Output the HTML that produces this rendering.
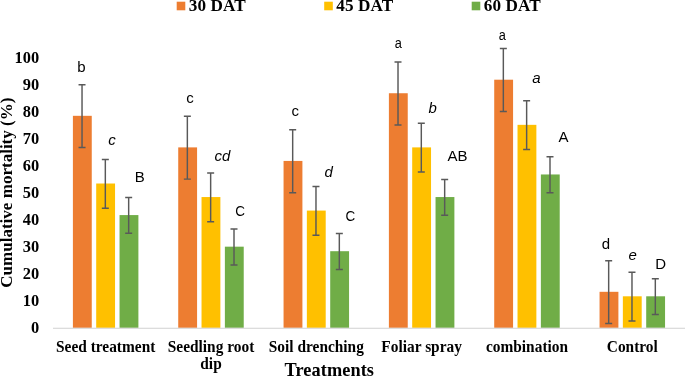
<!DOCTYPE html>
<html lang="en"><head><meta charset="utf-8"><title>Cumulative mortality chart</title>
<style>
html,body{margin:0;padding:0;background:#fff;}
body{width:685px;height:376px;overflow:hidden;}
svg{display:block;will-change:transform;}
.s{font-family:"Liberation Serif","DejaVu Serif",serif;font-weight:bold;fill:#000;}
.a{font-family:"Liberation Sans","DejaVu Sans",sans-serif;fill:#000;font-size:15px;}
.i{font-style:italic;}
</style></head><body>
<svg width="685" height="376" viewBox="0 0 685 376">
<rect x="0" y="0" width="685" height="376" fill="#ffffff"/>
<rect x="176.7" y="1.7" width="8.6" height="8.6" fill="#ED7D31"/>
<text class="s" x="188.7" y="11.1" font-size="17.2" letter-spacing="0.1">30 DAT</text>
<rect x="324.2" y="1.7" width="8.6" height="8.6" fill="#FFC000"/>
<text class="s" x="336.2" y="11.1" font-size="17.2" letter-spacing="0.1">45 DAT</text>
<rect x="471.7" y="1.7" width="8.6" height="8.6" fill="#70AD47"/>
<text class="s" x="483.7" y="11.1" font-size="17.2" letter-spacing="0.1">60 DAT</text>
<text class="s" x="39.2" y="333.35" font-size="16.4" text-anchor="end">0</text>
<text class="s" x="39.2" y="306.27" font-size="16.4" text-anchor="end">10</text>
<text class="s" x="39.2" y="279.20" font-size="16.4" text-anchor="end">20</text>
<text class="s" x="39.2" y="252.12" font-size="16.4" text-anchor="end">30</text>
<text class="s" x="39.2" y="225.05" font-size="16.4" text-anchor="end">40</text>
<text class="s" x="39.2" y="197.97" font-size="16.4" text-anchor="end">50</text>
<text class="s" x="39.2" y="170.90" font-size="16.4" text-anchor="end">60</text>
<text class="s" x="39.2" y="143.82" font-size="16.4" text-anchor="end">70</text>
<text class="s" x="39.2" y="116.75" font-size="16.4" text-anchor="end">80</text>
<text class="s" x="39.2" y="89.67" font-size="16.4" text-anchor="end">90</text>
<text class="s" x="39.2" y="62.60" font-size="16.4" text-anchor="end">100</text>
<text class="s" font-size="17.6" text-anchor="middle" transform="translate(12.1 192.65) rotate(-90) scale(0.969 1)">Cumulative mortality (%)</text>
<rect x="72.90" y="115.82" width="18.85" height="212.08" fill="#ED7D31"/>
<rect x="96.20" y="183.51" width="18.85" height="144.39" fill="#FFC000"/>
<rect x="119.55" y="215.08" width="18.85" height="112.82" fill="#70AD47"/>
<rect x="178.23" y="147.39" width="18.85" height="180.51" fill="#ED7D31"/>
<rect x="201.53" y="197.05" width="18.85" height="130.85" fill="#FFC000"/>
<rect x="224.88" y="246.67" width="18.85" height="81.22" fill="#70AD47"/>
<rect x="283.56" y="160.93" width="18.85" height="166.97" fill="#ED7D31"/>
<rect x="306.86" y="210.58" width="18.85" height="117.32" fill="#FFC000"/>
<rect x="330.21" y="251.20" width="18.85" height="76.70" fill="#70AD47"/>
<rect x="388.89" y="93.24" width="18.85" height="234.66" fill="#ED7D31"/>
<rect x="412.19" y="147.39" width="18.85" height="180.51" fill="#FFC000"/>
<rect x="435.54" y="197.05" width="18.85" height="130.85" fill="#70AD47"/>
<rect x="494.22" y="79.70" width="18.85" height="248.20" fill="#ED7D31"/>
<rect x="517.52" y="124.84" width="18.85" height="203.06" fill="#FFC000"/>
<rect x="540.87" y="174.47" width="18.85" height="153.43" fill="#70AD47"/>
<rect x="599.55" y="291.81" width="18.85" height="36.09" fill="#ED7D31"/>
<rect x="622.85" y="296.30" width="18.85" height="31.60" fill="#FFC000"/>
<rect x="646.20" y="296.30" width="18.85" height="31.60" fill="#70AD47"/>
<rect x="53.0"  y="327.70" width="632.0" height="1.2" fill="#D9D9D9"/>
<path d="M82.03 84.67V147.57M78.53 84.67H85.53M78.53 147.57H85.53" stroke="#595959" stroke-width="1.45" fill="none"/>
<path d="M105.33 159.46V208.16M101.83 159.46H108.83M101.83 208.16H108.83" stroke="#595959" stroke-width="1.45" fill="none"/>
<path d="M128.67 197.43V233.33M125.17 197.43H132.17M125.17 233.33H132.17" stroke="#595959" stroke-width="1.45" fill="none"/>
<path d="M187.35 116.24V179.14M183.85 116.24H190.85M183.85 179.14H190.85" stroke="#595959" stroke-width="1.45" fill="none"/>
<path d="M210.65 173.00V221.70M207.15 173.00H214.15M207.15 221.70H214.15" stroke="#595959" stroke-width="1.45" fill="none"/>
<path d="M234.00 229.03V264.93M230.50 229.03H237.50M230.50 264.93H237.50" stroke="#595959" stroke-width="1.45" fill="none"/>
<path d="M292.68 129.78V192.68M289.18 129.78H296.18M289.18 192.68H296.18" stroke="#595959" stroke-width="1.45" fill="none"/>
<path d="M315.98 186.53V235.23M312.48 186.53H319.48M312.48 235.23H319.48" stroke="#595959" stroke-width="1.45" fill="none"/>
<path d="M339.33 233.55V269.45M335.83 233.55H342.83M335.83 269.45H342.83" stroke="#595959" stroke-width="1.45" fill="none"/>
<path d="M398.01 62.09V124.99M394.51 62.09H401.51M394.51 124.99H401.51" stroke="#595959" stroke-width="1.45" fill="none"/>
<path d="M421.31 123.34V172.04M417.81 123.34H424.81M417.81 172.04H424.81" stroke="#595959" stroke-width="1.45" fill="none"/>
<path d="M444.67 179.40V215.30M441.17 179.40H448.17M441.17 215.30H448.17" stroke="#595959" stroke-width="1.45" fill="none"/>
<path d="M503.34 48.55V111.45M499.84 48.55H506.84M499.84 111.45H506.84" stroke="#595959" stroke-width="1.45" fill="none"/>
<path d="M526.64 100.79V149.49M523.14 100.79H530.14M523.14 149.49H530.14" stroke="#595959" stroke-width="1.45" fill="none"/>
<path d="M550.00 156.82V192.72M546.50 156.82H553.50M546.50 192.72H553.50" stroke="#595959" stroke-width="1.45" fill="none"/>
<path d="M608.67 260.66V323.56M605.17 260.66H612.17M605.17 323.56H612.17" stroke="#595959" stroke-width="1.45" fill="none"/>
<path d="M631.98 272.25V320.95M628.48 272.25H635.48M628.48 320.95H635.48" stroke="#595959" stroke-width="1.45" fill="none"/>
<path d="M655.32 278.65V314.55M651.82 278.65H658.82M651.82 314.55H658.82" stroke="#595959" stroke-width="1.45" fill="none"/>
<text class="s" transform="translate(105.66 351.60) scale(0.981 1)" font-size="15.7" text-anchor="middle">Seed treatment</text>
<text class="s" transform="translate(211.00 351.60) scale(0.981 1)" font-size="15.7" text-anchor="middle">Seedling root</text>
<text class="s" transform="translate(211.00 369.20) scale(0.981 1)" font-size="15.7" text-anchor="middle">dip</text>
<text class="s" transform="translate(316.32 351.60) scale(0.981 1)" font-size="15.7" text-anchor="middle">Soil drenching</text>
<text class="s" transform="translate(421.65 351.60) scale(0.981 1)" font-size="15.7" text-anchor="middle">Foliar spray</text>
<text class="s" transform="translate(526.99 351.60) scale(0.981 1)" font-size="15.7" text-anchor="middle">combination</text>
<text class="s" transform="translate(632.31 351.60) scale(0.981 1)" font-size="15.7" text-anchor="middle">Control</text>
<text class="s" x="329.3" y="375.5" font-size="18.3" letter-spacing="0.08" text-anchor="middle">Treatments</text>
<text class="a" x="81.5" y="72.4" text-anchor="middle">b</text>
<text class="a i" x="111.9" y="145.2" text-anchor="middle">c</text>
<text class="a" x="139.8" y="181.6" text-anchor="middle">B</text>
<text class="a" x="190.1" y="103.1" text-anchor="middle">c</text>
<text class="a i" x="222.5" y="160.9" text-anchor="middle">cd</text>
<text class="a" transform="translate(240.0 215.6) scale(0.9 1)" text-anchor="middle">C</text>
<text class="a" x="295.3" y="115.7" text-anchor="middle">c</text>
<text class="a i" x="328.7" y="177.3" text-anchor="middle">d</text>
<text class="a" transform="translate(350.4 221.2) scale(0.9 1)" text-anchor="middle">C</text>
<text class="a" transform="translate(398.4 47.6) scale(0.85 1)" text-anchor="middle">a</text>
<text class="a i" x="432.6" y="112.9" text-anchor="middle">b</text>
<text class="a" x="457.5" y="160.6" text-anchor="middle">AB</text>
<text class="a" transform="translate(502.4 39.5) scale(0.85 1)" text-anchor="middle">a</text>
<text class="a i" x="536.4" y="82.8" text-anchor="middle">a</text>
<text class="a" x="563.4" y="142.0" text-anchor="middle">A</text>
<text class="a" x="606.0" y="249.3" text-anchor="middle">d</text>
<text class="a i" x="632.7" y="260.2" text-anchor="middle">e</text>
<text class="a" x="660.6" y="268.7" text-anchor="middle">D</text>
</svg></body></html>
